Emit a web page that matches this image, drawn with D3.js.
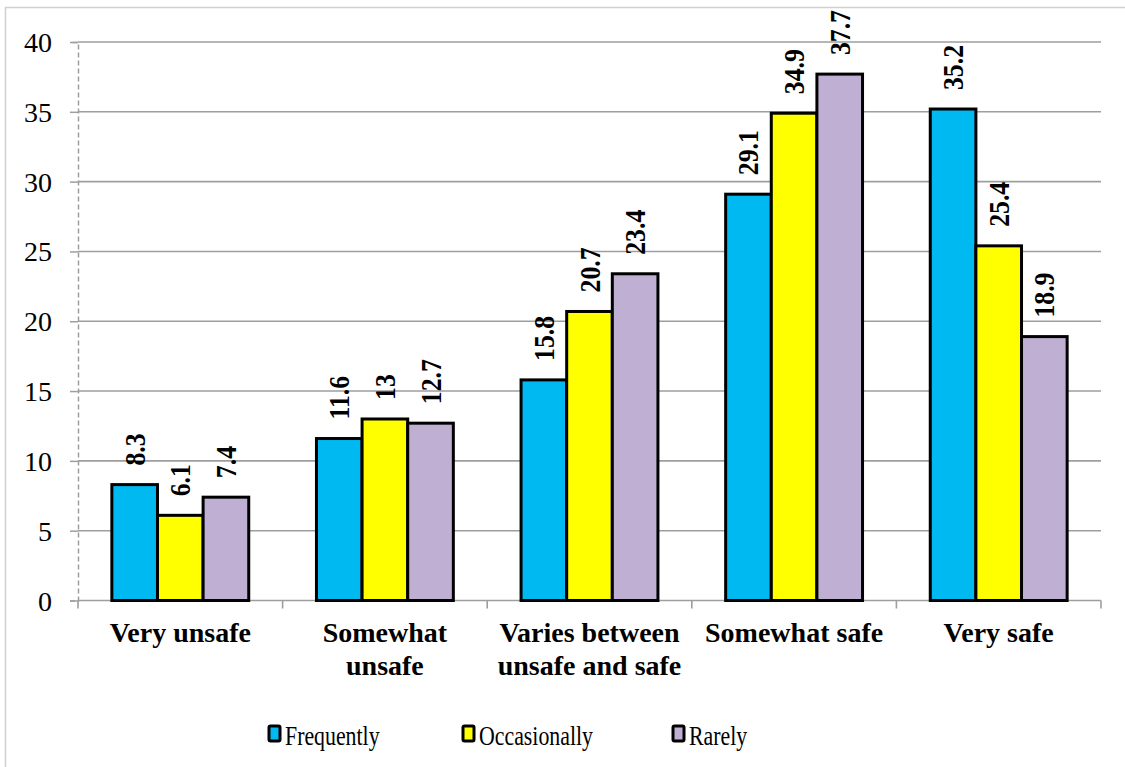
<!DOCTYPE html>
<html>
<head>
<meta charset="utf-8">
<script src="https://cdn.jsdelivr.net/npm/d3@7"></script>
<style>
  html, body { margin: 0; padding: 0; background: #fff; }
  svg { display: block; }
</style>
</head>
<body>
<svg id="chart" width="1125" height="767"></svg>
<script>
// Perceived safety by frequency of use (percent)
const categories = ["Very unsafe", "Somewhat unsafe", "Varies between unsafe and safe", "Somewhat safe", "Very safe"];
const seriesNames = ["Frequently", "Occasionally", "Rarely"];
const frequently   = [8.3, 11.6, 15.8, 29.1, 35.2];
const occasionally = [6.1, 13, 20.7, 34.9, 25.4];
const rarely       = [7.4, 12.7, 23.4, 37.7, 18.9];
const seriesColors = ["#00B9F1", "#FFFF00", "#BFB0D3"];
const yTicks = [0, 5, 10, 15, 20, 25, 30, 35, 40];

const seriesValues = [frequently, occasionally, rarely];

const svg = d3.select("#chart");
const W = 1125, H = 767;
const plot = { left: 78, right: 1101, top: 42, bottom: 600.5 };
const serif = "'Liberation Serif', 'Times New Roman', serif";

// outer frame
svg.append("rect")
  .attr("x", 5.5).attr("y", 7.5)
  .attr("width", W).attr("height", H)
  .attr("fill", "#fff").attr("stroke", "#D0D0D0").attr("stroke-width", 1.5);

const x0 = d3.scaleBand().domain(categories).range([plot.left, plot.right]).padding(0);
const x1 = d3.scaleBand().domain(seriesNames)
  .range([x0.bandwidth() * 0.1655, x0.bandwidth() * 0.8345]).padding(0);
const y = d3.scaleLinear().domain([0, 40]).range([plot.bottom, plot.top]);

// horizontal gridlines
svg.append("g")
  .selectAll("line")
  .data(yTicks.filter(t => t > 0))
  .join("line")
  .attr("x1", plot.left).attr("x2", plot.right)
  .attr("y1", d => y(d)).attr("y2", d => y(d))
  .attr("stroke", "#9E9E9E").attr("stroke-width", 1.6);

// y axis
const yAxis = svg.append("g")
  .attr("transform", `translate(${plot.left},0)`)
  .call(d3.axisLeft(y).tickValues(yTicks).tickSize(8).tickPadding(18));
yAxis.select(".domain").attr("stroke", "#9E9E9E").attr("stroke-width", 1.5)
  .attr("stroke-dasharray", "5,3");
yAxis.selectAll(".tick line").attr("stroke", "#9E9E9E").attr("stroke-width", 1.5);
yAxis.selectAll(".tick text")
  .attr("font-family", serif).attr("font-size", 28).attr("fill", "#000")
  .attr("dy", "0.34em");

// x axis
const xAxis = svg.append("g")
  .attr("transform", `translate(0,${plot.bottom})`);
xAxis.append("line")
  .attr("x1", plot.left).attr("x2", plot.right)
  .attr("stroke", "#9E9E9E").attr("stroke-width", 1.6);
const boundaries = categories.map(c => x0(c)).concat([plot.right]);
xAxis.selectAll("line.bt")
  .data(boundaries)
  .join("line").attr("class", "bt")
  .attr("x1", d => d).attr("x2", d => d)
  .attr("y1", 0).attr("y2", 8)
  .attr("stroke", "#9E9E9E").attr("stroke-width", 1.6);

// bars
const groups = svg.append("g")
  .selectAll("g")
  .data(categories)
  .join("g")
  .attr("transform", c => `translate(${x0(c)},0)`);

const barData = (c, i) => seriesNames.map((s, k) => ({ s, k, v: seriesValues[k][i] }));

groups.selectAll("rect")
  .data((c, i) => barData(c, i))
  .join("rect")
  .attr("x", d => x1(d.s))
  .attr("y", d => y(d.v))
  .attr("width", x1.bandwidth())
  .attr("height", d => plot.bottom - y(d.v))
  .attr("fill", d => seriesColors[d.k])
  .attr("stroke", "#000")
  .attr("stroke-width", 3);

// rotated value labels
groups.selectAll("text.val")
  .data((c, i) => barData(c, i))
  .join("text").attr("class", "val")
  .attr("transform", d => `translate(${x1(d.s) + x1.bandwidth() / 2 + 10},${y(d.v) - 19}) rotate(-90) scale(0.92,1.08)`)
  .attr("font-family", serif).attr("font-weight", "bold").attr("font-size", 28)
  .attr("fill", "#000")
  .text(d => String(d.v));

// category labels, wrapped to the band width
const catLabels = svg.append("g")
  .selectAll("text")
  .data(categories)
  .join("text")
  .attr("x", c => x0(c) + x0.bandwidth() / 2)
  .attr("y", 642)
  .attr("text-anchor", "middle")
  .attr("font-family", serif).attr("font-weight", "bold").attr("font-size", 28)
  .attr("fill", "#000");

catLabels.each(function (c) {
  const t = d3.select(this);
  const words = c.split(" ");
  const cx = +t.attr("x");
  let line = [];
  let tspan = t.append("tspan").attr("x", cx).attr("dy", 0);
  for (const w of words) {
    line.push(w);
    tspan.text(line.join(" "));
    if (tspan.node().getComputedTextLength() > 196 && line.length > 1) {
      line.pop();
      tspan.text(line.join(" "));
      line = [w];
      tspan = t.append("tspan").attr("x", cx).attr("dy", 33).text(w);
    }
  }
});

// legend
const legendX = [269, 463, 673];
const legend = svg.append("g")
  .selectAll("g")
  .data(seriesNames)
  .join("g")
  .attr("transform", (d, i) => `translate(${legendX[i]},726)`);
legend.append("rect")
  .attr("x", 0).attr("y", 0).attr("width", 11).attr("height", 15)
  .attr("rx", 1.5)
  .attr("fill", (d, i) => seriesColors[i])
  .attr("stroke", "#000").attr("stroke-width", 3);
legend.append("text")
  .attr("transform", "translate(16,19) scale(0.78,1)")
  .attr("font-family", serif).attr("font-size", 28).attr("fill", "#000")
  .text(d => d);
</script>
</body>
</html>
